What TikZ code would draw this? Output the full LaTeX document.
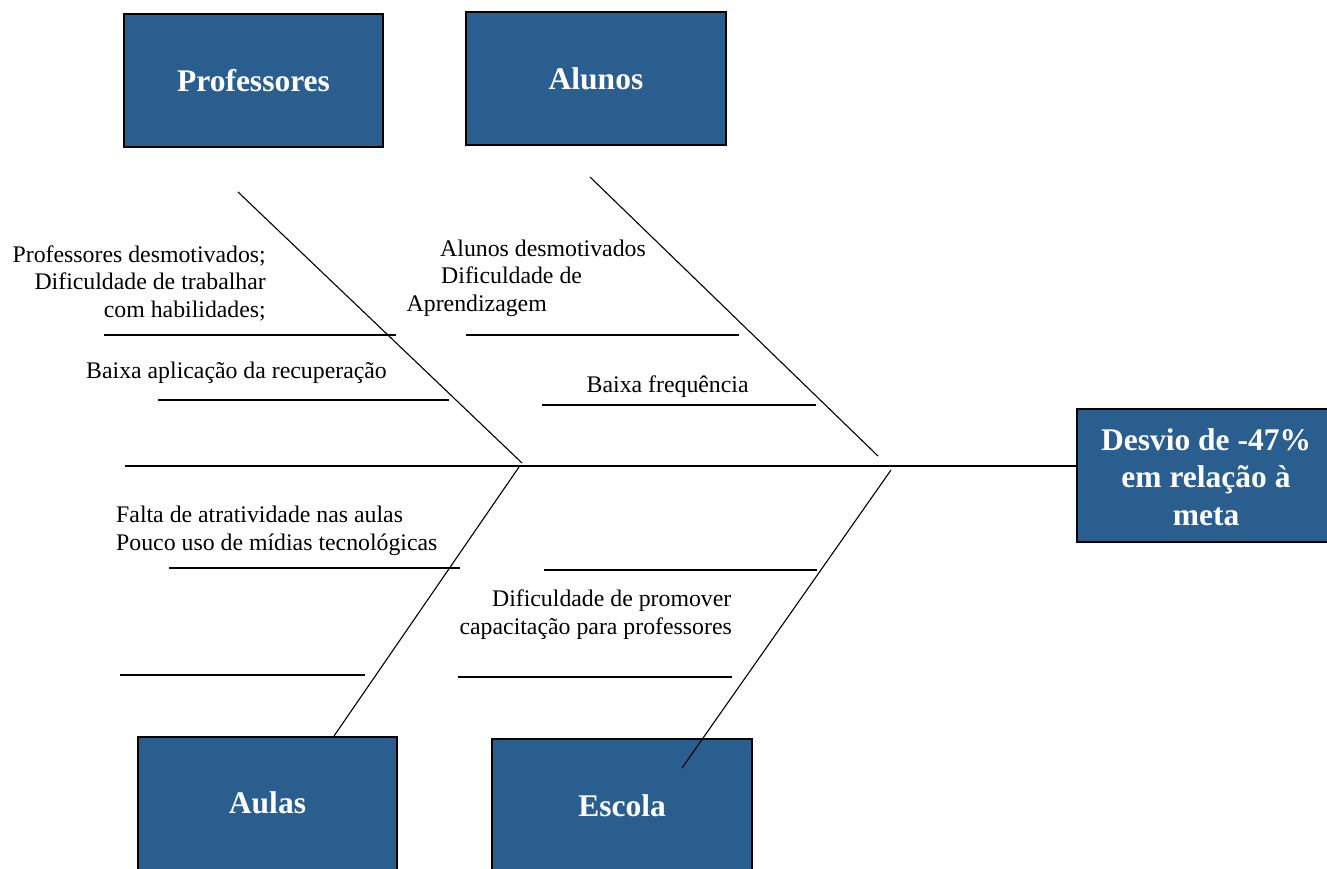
\documentclass[tikz,border=0pt]{standalone}
\usepackage{fontspec}
\setmainfont{Liberation Serif}
\definecolor{boxblue}{RGB}{42,94,143}
\begin{document}
\begin{tikzpicture}[x=1pt,y=-1pt,
  catbox/.style={draw=black,line width=1.6pt,fill=boxblue},
  cattext/.style={text=white,font=\fontsize{31.5}{37.5}\selectfont\bfseries,align=center,inner sep=0pt},
  bone/.style={line width=1.1pt},
  sub/.style={line width=1.5pt},
  lbl/.style={font=\fontsize{23.8}{27.5}\selectfont,inner sep=0pt}]
\useasboundingbox (0,0) rectangle (1327,868);
\clip (0,0) rectangle (1327,868);
% category boxes
\path[catbox] (124,14) rectangle (383,147);
\node[cattext] (tprof) at (253.5,80.5) {Professores};
\path[catbox] (466,12) rectangle (726,145);
\node[cattext] (talun) at (596,78.5) {Alunos};
\path[catbox] (138,737) rectangle (397,880);
\node[cattext] (taula) at (267.5,803) {Aulas};
\path[catbox] (492,739) rectangle (752,880);
\node[cattext] (tesco) at (622,806) {Escola};
\path[catbox] (1077,409) rectangle (1340,542);
\node[cattext] (tres) at (1206,477) {Desvio de -47\%\\em relação à\\meta};
% spine
\coordinate (sp0) at (125,466);
\coordinate (sp1) at (1077,466);
\draw[bone] (sp0) -- (sp1);
% main bones
\coordinate (bp0) at (238,192); \coordinate (bp1) at (522,463);
\coordinate (ba0) at (590,177); \coordinate (ba1) at (878,456);
\coordinate (bl0) at (519,467); \coordinate (bl1) at (334,736);
\coordinate (be0) at (891,470); \coordinate (be1) at (682,768);
\draw[bone] (bp0) -- (bp1);
\draw[bone] (ba0) -- (ba1);
\draw[bone] (bl0) -- (bl1);
\draw[bone] (be0) -- (be1);
% sub-bones
\coordinate (p1a) at (104,335); \coordinate (p1b) at (396,335);
\coordinate (p2a) at (158,400); \coordinate (p2b) at (449,400);
\coordinate (a1a) at (466,335); \coordinate (a1b) at (739,335);
\coordinate (a2a) at (542,405); \coordinate (a2b) at (816,405);
\coordinate (l1a) at (169,568); \coordinate (l1b) at (460,568);
\coordinate (l2a) at (120,675); \coordinate (l2b) at (365,675);
\coordinate (e1a) at (544,570); \coordinate (e1b) at (817,570);
\coordinate (e2a) at (458,677); \coordinate (e2b) at (732,677);
\draw[sub] (p1a) -- (p1b);
\draw[sub] (p2a) -- (p2b);
\draw[sub] (a1a) -- (a1b);
\draw[sub] (a2a) -- (a2b);
\draw[sub] (l1a) -- (l1b);
\draw[sub] (l2a) -- (l2b);
\draw[sub] (e1a) -- (e1b);
\draw[sub] (e2a) -- (e2b);
% labels
\node[lbl,anchor=base east] (lp1) at (266,262) {Professores desmotivados;};
\node[lbl,anchor=base east] (lp2) at (266,289.5) {Dificuldade de trabalhar};
\node[lbl,anchor=base east] (lp3) at (266,317) {com habilidades;};
\node[lbl,anchor=base west] (lp4) at (86,378) {Baixa aplicação da recuperação};
\node[lbl,anchor=base west] (la1) at (440,256.5) {Alunos desmotivados};
\node[lbl,anchor=base west] (la2) at (441,283.5) {Dificuldade de};
\node[lbl,anchor=base west] (la3) at (406.5,311) {Aprendizagem};
\node[lbl,anchor=base west] (la4) at (586.5,392) {Baixa frequência};
\node[lbl,anchor=base west] (ll1) at (116,522) {Falta de atratividade nas aulas};
\node[lbl,anchor=base west] (ll2) at (116,550) {Pouco uso de mídias tecnológicas};
\node[lbl,anchor=base east] (le1) at (731.5,606.5) {Dificuldade de promover};
\node[lbl,anchor=base east] (le2) at (732,634) {capacitação para professores};
\end{tikzpicture}
\end{document}
